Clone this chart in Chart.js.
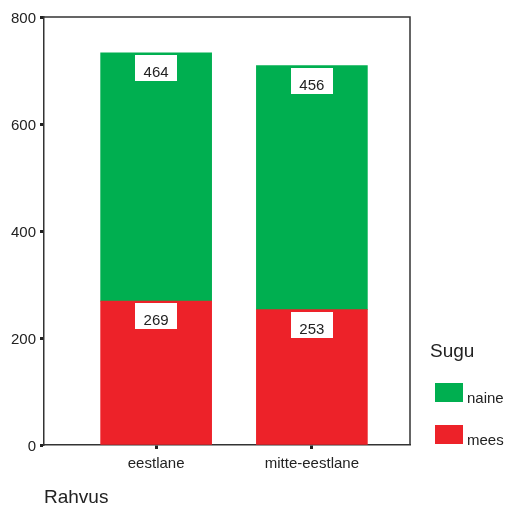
<!DOCTYPE html>
<html>
<head>
<meta charset="utf-8">
<script src="https://cdn.jsdelivr.net/npm/chart.js@4"></script>
<style>
  html, body { margin: 0; padding: 0; background: #fff; }
  #wrap { width: 506px; height: 505px; }
</style>
</head>
<body>
<div id="wrap"><canvas id="graafik" width="506" height="505"></canvas></div>
<script>
const rahvused = ["eestlane", "mitte-eestlane"];
const mees = [269, 253];
const naine = [464, 456];
const yTicks = [0, 200, 400, 600, 800];

const roheline = "rgb(0,175,80)";
const punane = "rgb(237,34,41)";
const font = "Liberation Sans, Arial, sans-serif";

// väärtuste kastid iga lõigu ülaservas
const kastid = {
  id: "kastid",
  afterDatasetsDraw(chart) {
    const ctx = chart.ctx;
    ctx.save();
    ctx.font = "15px " + font;
    ctx.textAlign = "center";
    ctx.textBaseline = "alphabetic";
    chart.data.datasets.forEach((ds, i) => {
      chart.getDatasetMeta(i).data.forEach((bar, j) => {
        const x = bar.x, y = bar.y;
        ctx.fillStyle = "#fff";
        ctx.fillRect(Math.round(x - 21), Math.round(y + 2), 42, 26);
        ctx.fillStyle = "#222";
        ctx.fillText(String(ds.data[j].y), x, y + 24);
      });
    });
    ctx.restore();
  }
};

// raam, telje pealkiri ja legend
const raam = {
  id: "raam",
  afterDraw(chart) {
    const ctx = chart.ctx;
    const a = chart.chartArea;
    ctx.save();
    ctx.strokeStyle = "#333";
    ctx.lineWidth = 1.5;
    ctx.beginPath();
    ctx.moveTo(a.left, a.top);
    ctx.lineTo(a.right, a.top);
    ctx.lineTo(a.right, a.bottom);
    ctx.stroke();

    ctx.fillStyle = "#222";
    ctx.textAlign = "left";
    ctx.textBaseline = "alphabetic";
    ctx.font = "19px " + font;
    ctx.fillText("Rahvus", 44, 503);
    ctx.fillText("Sugu", 430, 357);

    ctx.font = "15px " + font;
    const kirjed = [
      { nimi: "naine", varv: roheline, y: 383 },
      { nimi: "mees", varv: punane, y: 425 }
    ];
    kirjed.forEach(k => {
      ctx.fillStyle = k.varv;
      ctx.fillRect(435, k.y, 28, 19);
      ctx.fillStyle = "#222";
      ctx.fillText(k.nimi, 467, k.y + 20);
    });
    ctx.restore();
  }
};

new Chart(document.getElementById("graafik"), {
  type: "bar",
  data: {
    datasets: [
      {
        label: "mees",
        data: mees.map((v, i) => ({ x: i, y: v })),
        backgroundColor: punane,
        barThickness: 111
      },
      {
        label: "naine",
        data: naine.map((v, i) => ({ x: i, y: v })),
        backgroundColor: roheline,
        barThickness: 111
      }
    ]
  },
  options: {
    responsive: false,
    animation: false,
    layout: { padding: { top: 17, right: 96, left: 0, bottom: 0 } },
    plugins: {
      legend: { display: false },
      tooltip: { enabled: false }
    },
    scales: {
      x: {
        type: "linear",
        stacked: true,
        offset: false,
        min: -0.72,
        max: 1.63,
        afterFit: s => { s.height = 60; },
        afterBuildTicks: s => { s.ticks = [{ value: 0 }, { value: 1 }]; },
        ticks: {
          callback: v => rahvused[v] ?? "",
          color: "#222",
          font: { family: font, size: 15 },
          padding: 6,
          maxRotation: 0
        },
        grid: {
          display: true,
          offset: false,
          drawOnChartArea: false,
          drawTicks: true,
          tickLength: 4,
          tickWidth: 3,
          tickColor: "#222"
        },
        border: { color: "#333", width: 1.5 }
      },
      y: {
        stacked: true,
        min: 0,
        max: 800,
        afterFit: s => { s.width = 44; },
        afterBuildTicks: s => { s.ticks = yTicks.map(v => ({ value: v })); },
        ticks: {
          color: "#222",
          font: { family: font, size: 15 },
          padding: 4,
          labelOffset: 2
        },
        grid: {
          display: true,
          drawOnChartArea: false,
          drawTicks: true,
          tickLength: 4,
          tickWidth: 3,
          tickColor: "#222"
        },
        border: { color: "#333", width: 1.5 }
      }
    }
  },
  plugins: [kastid, raam]
});
</script>
</body>
</html>
